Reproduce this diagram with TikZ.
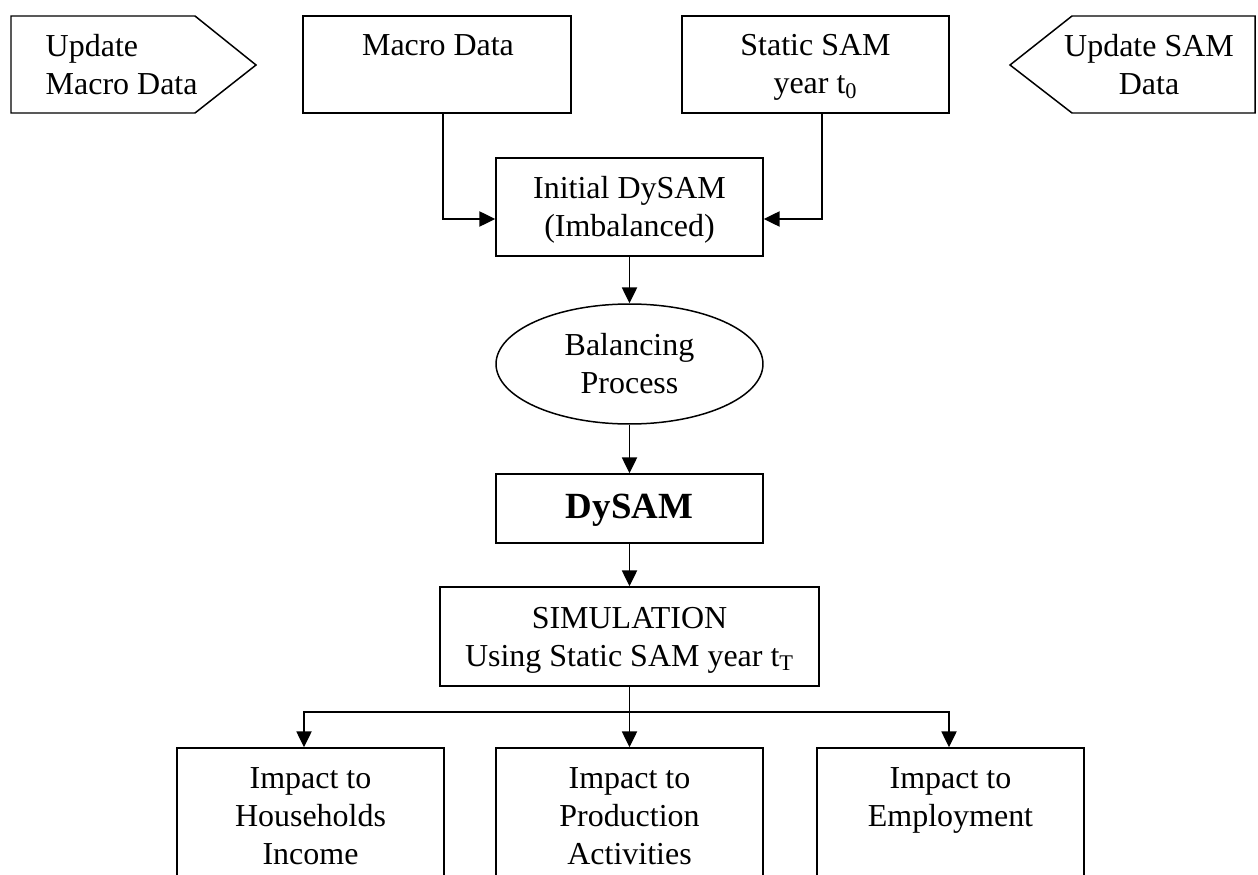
\documentclass[tikz,border=0pt]{standalone}
\usepackage{fontspec}
\setmainfont{Liberation Serif}
\usetikzlibrary{arrows.meta,fit,shapes.geometric}
\begin{document}
\begin{tikzpicture}[x=0.02cm,y=-0.02cm,
  line width=0.85pt,
  txt/.style={font=\fontsize{18.2}{21.6}\selectfont, inner sep=0pt, align=center},
  boxfit/.style={draw, inner sep=0pt, rectangle},
  arr/.style={-{Triangle[length=9pt,width=8.6pt]}}]
\useasboundingbox (0,0) rectangle (1258,875);
\fill[white] (0,0) rectangle (1258,875);
\clip (0,0) rectangle (1258,875);

% input pentagons
\draw (11,16) -- (195,16) -- (256,65) -- (195,113) -- (11,113) -- cycle;
\node[txt, align=left, anchor=north west] (umd) at (45,34) {Update\\Macro Data};
\draw (1255,16) -- (1072,16) -- (1010,65) -- (1072,113) -- (1255,113) -- cycle;
\node[txt, anchor=north] (usd) at (1149,34) {Update SAM\\Data};

% top boxes
\node[boxfit, fit={(303,16)(571,113)}] (macro) {};
\node[txt, anchor=north] (macrot) at (438,34) {Macro Data};
\node[boxfit, fit={(682,16)(949,113)}] (static) {};
\node[txt, anchor=north] (statict) at (815.5,34) {Static SAM\\year t\textsubscript{0}};

% main chain
\node[boxfit, fit={(496,158)(763,256)}] (init) {};
\node[txt] (initt) at (629.5,210) {Initial DySAM\\(Imbalanced)};
\node[draw, ellipse, inner sep=0pt, minimum width=5.34cm, minimum height=2.4cm,
      txt] (bal) at (629.5,364) {Balancing\\Process};
\node[boxfit, fit={(496,474)(763,543)}] (dysam) {};
\node[inner sep=0pt, font=\fontsize{21}{24}\selectfont\bfseries] (dysamt) at (629.5,510) {DySAM};
\node[boxfit, fit={(440,587)(819,686)}] (sim) {};
\node[txt] (simt) at (629.5,640) {SIMULATION\\Using Static SAM year t\textsubscript{T}};

% bottom boxes
\node[boxfit, fit={(177,748)(444,900)}] (hh) {};
\node[txt, anchor=north] (hht) at (310.5,767) {Impact to\\Households\\Income};
\node[boxfit, fit={(496,748)(763,900)}] (prod) {};
\node[txt, anchor=north] (prodt) at (629.5,767) {Impact to\\Production\\Activities};
\node[boxfit, fit={(817,748)(1084,900)}] (emp) {};
\node[txt, anchor=north] (empt) at (950.5,767) {Impact to\\Employment};

% connectors
\draw[arr] ([xshift=0.12cm]macro.south) |- ([yshift=-0.24cm]init.west);
\draw[arr] ([xshift=0.13cm]static.south) |- ([yshift=-0.24cm]init.east);
\draw[arr] (init.south) -- (bal.north);
\draw[arr] (bal.south) -- (dysam.north);
\draw[arr] (dysam.south) -- (sim.north);
\coordinate (br) at (629.5,712);
\draw[arr] (sim.south) -- (prod.north);
\draw[arr] (br) -| ([xshift=-0.13cm]hh.north);
\draw[arr] (br) -| ([xshift=-0.03cm]emp.north);
\end{tikzpicture}
\end{document}
